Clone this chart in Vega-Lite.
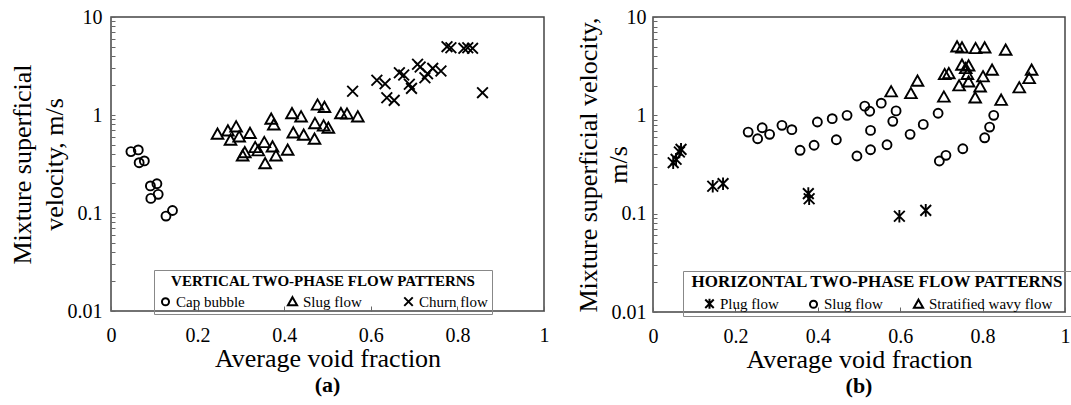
{
  "$schema": "https://vega.github.io/schema/vega-lite/v6.json",
  "padding": {"left": 8, "top": 6, "right": 0, "bottom": 0},
  "background": "white",
  "spacing": 24,
  "config": {
    "font": "Liberation Serif",
    "view": {"stroke": "#444", "strokeWidth": 1.5},
    "axis": {"domain": false, "grid": false, "labelFont": "Liberation Serif", "titleFont": "Liberation Serif", "labelColor": "black", "titleColor": "black", "tickColor": "#666", "titleFontWeight": "normal"}
  },
  "datasets": {
    "vertical": [
      {"x": 0.046, "v": 0.423, "type": "Cap bubble"},
      {"x": 0.063, "v": 0.440, "type": "Cap bubble"},
      {"x": 0.065, "v": 0.326, "type": "Cap bubble"},
      {"x": 0.077, "v": 0.340, "type": "Cap bubble"},
      {"x": 0.091, "v": 0.189, "type": "Cap bubble"},
      {"x": 0.106, "v": 0.199, "type": "Cap bubble"},
      {"x": 0.092, "v": 0.141, "type": "Cap bubble"},
      {"x": 0.109, "v": 0.155, "type": "Cap bubble"},
      {"x": 0.127, "v": 0.093, "type": "Cap bubble"},
      {"x": 0.142, "v": 0.106, "type": "Cap bubble"},
      {"x": 0.246, "v": 0.635, "type": "Slug flow"},
      {"x": 0.270, "v": 0.687, "type": "Slug flow"},
      {"x": 0.276, "v": 0.552, "type": "Slug flow"},
      {"x": 0.289, "v": 0.755, "type": "Slug flow"},
      {"x": 0.296, "v": 0.597, "type": "Slug flow"},
      {"x": 0.321, "v": 0.646, "type": "Slug flow"},
      {"x": 0.304, "v": 0.382, "type": "Slug flow"},
      {"x": 0.309, "v": 0.412, "type": "Slug flow"},
      {"x": 0.333, "v": 0.464, "type": "Slug flow"},
      {"x": 0.340, "v": 0.430, "type": "Slug flow"},
      {"x": 0.354, "v": 0.522, "type": "Slug flow"},
      {"x": 0.356, "v": 0.318, "type": "Slug flow"},
      {"x": 0.370, "v": 0.904, "type": "Slug flow"},
      {"x": 0.376, "v": 0.791, "type": "Slug flow"},
      {"x": 0.373, "v": 0.471, "type": "Slug flow"},
      {"x": 0.381, "v": 0.382, "type": "Slug flow"},
      {"x": 0.408, "v": 0.436, "type": "Slug flow"},
      {"x": 0.418, "v": 1.03, "type": "Slug flow"},
      {"x": 0.421, "v": 0.655, "type": "Slug flow"},
      {"x": 0.439, "v": 0.955, "type": "Slug flow"},
      {"x": 0.445, "v": 0.621, "type": "Slug flow"},
      {"x": 0.470, "v": 0.565, "type": "Slug flow"},
      {"x": 0.471, "v": 0.815, "type": "Slug flow"},
      {"x": 0.477, "v": 1.26, "type": "Slug flow"},
      {"x": 0.493, "v": 1.19, "type": "Slug flow"},
      {"x": 0.491, "v": 0.773, "type": "Slug flow"},
      {"x": 0.502, "v": 0.731, "type": "Slug flow"},
      {"x": 0.531, "v": 1.03, "type": "Slug flow"},
      {"x": 0.545, "v": 1.02, "type": "Slug flow"},
      {"x": 0.570, "v": 0.955, "type": "Slug flow"},
      {"x": 0.558, "v": 1.75, "type": "Churn flow"},
      {"x": 0.614, "v": 2.26, "type": "Churn flow"},
      {"x": 0.633, "v": 2.08, "type": "Churn flow"},
      {"x": 0.637, "v": 1.50, "type": "Churn flow"},
      {"x": 0.654, "v": 1.41, "type": "Churn flow"},
      {"x": 0.666, "v": 2.70, "type": "Churn flow"},
      {"x": 0.676, "v": 2.56, "type": "Churn flow"},
      {"x": 0.689, "v": 2.06, "type": "Churn flow"},
      {"x": 0.694, "v": 1.87, "type": "Churn flow"},
      {"x": 0.708, "v": 3.29, "type": "Churn flow"},
      {"x": 0.714, "v": 3.09, "type": "Churn flow"},
      {"x": 0.725, "v": 2.40, "type": "Churn flow"},
      {"x": 0.731, "v": 2.64, "type": "Churn flow"},
      {"x": 0.743, "v": 2.99, "type": "Churn flow"},
      {"x": 0.762, "v": 2.81, "type": "Churn flow"},
      {"x": 0.776, "v": 4.98, "type": "Churn flow"},
      {"x": 0.785, "v": 4.86, "type": "Churn flow"},
      {"x": 0.815, "v": 4.79, "type": "Churn flow"},
      {"x": 0.824, "v": 4.86, "type": "Churn flow"},
      {"x": 0.835, "v": 4.79, "type": "Churn flow"},
      {"x": 0.858, "v": 1.69, "type": "Churn flow"}
    ],
    "horizontal": [
      {"x": 0.049, "v": 0.330, "type": "Plug flow"},
      {"x": 0.056, "v": 0.357, "type": "Plug flow"},
      {"x": 0.064, "v": 0.424, "type": "Plug flow"},
      {"x": 0.068, "v": 0.451, "type": "Plug flow"},
      {"x": 0.145, "v": 0.190, "type": "Plug flow"},
      {"x": 0.170, "v": 0.202, "type": "Plug flow"},
      {"x": 0.377, "v": 0.160, "type": "Plug flow"},
      {"x": 0.379, "v": 0.142, "type": "Plug flow"},
      {"x": 0.598, "v": 0.094, "type": "Plug flow"},
      {"x": 0.662, "v": 0.108, "type": "Plug flow"},
      {"x": 0.231, "v": 0.676, "type": "Slug flow"},
      {"x": 0.254, "v": 0.578, "type": "Slug flow"},
      {"x": 0.265, "v": 0.748, "type": "Slug flow"},
      {"x": 0.283, "v": 0.641, "type": "Slug flow"},
      {"x": 0.313, "v": 0.791, "type": "Slug flow"},
      {"x": 0.337, "v": 0.715, "type": "Slug flow"},
      {"x": 0.357, "v": 0.441, "type": "Slug flow"},
      {"x": 0.391, "v": 0.496, "type": "Slug flow"},
      {"x": 0.399, "v": 0.855, "type": "Slug flow"},
      {"x": 0.435, "v": 0.925, "type": "Slug flow"},
      {"x": 0.445, "v": 0.565, "type": "Slug flow"},
      {"x": 0.471, "v": 1.00, "type": "Slug flow"},
      {"x": 0.495, "v": 0.386, "type": "Slug flow"},
      {"x": 0.514, "v": 1.24, "type": "Slug flow"},
      {"x": 0.526, "v": 1.10, "type": "Slug flow"},
      {"x": 0.528, "v": 0.703, "type": "Slug flow"},
      {"x": 0.528, "v": 0.447, "type": "Slug flow"},
      {"x": 0.554, "v": 1.33, "type": "Slug flow"},
      {"x": 0.568, "v": 0.502, "type": "Slug flow"},
      {"x": 0.582, "v": 0.869, "type": "Slug flow"},
      {"x": 0.590, "v": 1.11, "type": "Slug flow"},
      {"x": 0.624, "v": 0.641, "type": "Slug flow"},
      {"x": 0.656, "v": 0.809, "type": "Slug flow"},
      {"x": 0.692, "v": 1.05, "type": "Slug flow"},
      {"x": 0.695, "v": 0.343, "type": "Slug flow"},
      {"x": 0.711, "v": 0.392, "type": "Slug flow"},
      {"x": 0.752, "v": 0.457, "type": "Slug flow"},
      {"x": 0.805, "v": 0.591, "type": "Slug flow"},
      {"x": 0.817, "v": 0.760, "type": "Slug flow"},
      {"x": 0.827, "v": 1.00, "type": "Slug flow"},
      {"x": 0.578, "v": 1.73, "type": "Stratified wavy flow"},
      {"x": 0.626, "v": 1.66, "type": "Stratified wavy flow"},
      {"x": 0.642, "v": 2.22, "type": "Stratified wavy flow"},
      {"x": 0.706, "v": 1.53, "type": "Stratified wavy flow"},
      {"x": 0.708, "v": 2.59, "type": "Stratified wavy flow"},
      {"x": 0.718, "v": 2.65, "type": "Stratified wavy flow"},
      {"x": 0.738, "v": 4.95, "type": "Stratified wavy flow"},
      {"x": 0.750, "v": 4.84, "type": "Stratified wavy flow"},
      {"x": 0.783, "v": 4.76, "type": "Stratified wavy flow"},
      {"x": 0.805, "v": 4.84, "type": "Stratified wavy flow"},
      {"x": 0.856, "v": 4.58, "type": "Stratified wavy flow"},
      {"x": 0.750, "v": 3.23, "type": "Stratified wavy flow"},
      {"x": 0.759, "v": 2.98, "type": "Stratified wavy flow"},
      {"x": 0.766, "v": 3.17, "type": "Stratified wavy flow"},
      {"x": 0.763, "v": 2.60, "type": "Stratified wavy flow"},
      {"x": 0.743, "v": 1.99, "type": "Stratified wavy flow"},
      {"x": 0.766, "v": 2.18, "type": "Stratified wavy flow"},
      {"x": 0.782, "v": 1.50, "type": "Stratified wavy flow"},
      {"x": 0.794, "v": 1.94, "type": "Stratified wavy flow"},
      {"x": 0.801, "v": 2.46, "type": "Stratified wavy flow"},
      {"x": 0.823, "v": 2.87, "type": "Stratified wavy flow"},
      {"x": 0.845, "v": 1.42, "type": "Stratified wavy flow"},
      {"x": 0.889, "v": 1.90, "type": "Stratified wavy flow"},
      {"x": 0.913, "v": 2.36, "type": "Stratified wavy flow"},
      {"x": 0.919, "v": 2.87, "type": "Stratified wavy flow"}
    ]
  },
  "resolve": {"scale": {"shape": "independent", "x": "independent", "y": "independent"}, "legend": {"shape": "independent"}},
  "hconcat": [
    {
      "width": 433,
      "height": 294,
      "data": {"name": "vertical"},
      "title": {"text": "(a)", "orient": "bottom", "font": "Liberation Serif", "fontSize": 22, "fontWeight": "bold", "offset": 4},
      "mark": {"type": "point", "filled": false, "stroke": "black", "strokeWidth": 1.9, "opacity": 1, "size": 80},
      "encoding": {
        "x": {"field": "x", "type": "quantitative", "scale": {"domain": [0, 1], "nice": false}, "axis": {"title": "Average void fraction", "values": [0, 0.2, 0.4, 0.6, 0.8, 1], "format": "~g", "labelFontSize": 20, "titleFontSize": 26, "tickSize": -5, "labelPadding": 19, "titlePadding": 0, "labelFlush": false}},
        "y": {"field": "v", "type": "quantitative", "scale": {"type": "log", "domain": [0.01, 10], "nice": false}, "axis": {"title": ["Mixture superficial", "velocity, m/s"], "titleLineHeight": 32, "values": [0.01, 0.02, 0.03, 0.04, 0.05, 0.06, 0.07, 0.08, 0.09, 0.1, 0.2, 0.3, 0.4, 0.5, 0.6, 0.7, 0.8, 0.9, 1, 2, 3, 4, 5, 6, 7, 8, 9, 10], "format": "~g", "labelExpr": "(datum.value == 0.01 || datum.value == 0.1 || datum.value == 1 || datum.value == 10) ? datum.label : ''", "labelFontSize": 20, "titleFontSize": 26, "tickSize": -4, "labelPadding": 13, "titlePadding": 0, "labelFlush": false}},
        "shape": {"field": "type", "type": "nominal", "scale": {"domain": ["Cap bubble", "Slug flow", "Churn flow"], "range": ["circle", "M0,-1.3L1.3,1.0L-1.3,1.0Z", "M-1.2,-1.2L1.2,1.2M-1.2,1.2L1.2,-1.2"]}, "legend": {"orient": "none", "legendX": 43, "legendY": 253, "direction": "horizontal", "title": "VERTICAL  TWO-PHASE  FLOW PATTERNS", "titleFont": "Liberation Serif", "titleFontWeight": "bold", "titleFontSize": 15, "titleAnchor": "middle", "titleColor": "black", "titleLimit": 600, "labelFont": "Liberation Serif", "labelFontSize": 15, "labelColor": "black", "labelLimit": 300, "strokeColor": "#888", "padding": 4, "columnPadding": 38, "symbolStrokeColor": "black", "symbolStrokeWidth": 2, "symbolSize": 50, "labelOffset": 3}}
      }
    },
    {
      "width": 412,
      "height": 295,
      "data": {"name": "horizontal"},
      "title": {"text": "(b)", "orient": "bottom", "font": "Liberation Serif", "fontSize": 22, "fontWeight": "bold", "offset": 4},
      "mark": {"type": "point", "filled": false, "stroke": "black", "strokeWidth": 1.9, "opacity": 1, "size": 80},
      "encoding": {
        "x": {"field": "x", "type": "quantitative", "scale": {"domain": [0, 1], "nice": false}, "axis": {"title": "Average void fraction", "values": [0, 0.2, 0.4, 0.6, 0.8, 1], "format": "~g", "labelFontSize": 20, "titleFontSize": 26, "tickSize": -5, "labelPadding": 19, "titlePadding": 0, "labelFlush": false}},
        "y": {"field": "v", "type": "quantitative", "scale": {"type": "log", "domain": [0.01, 10], "nice": false}, "axis": {"title": ["Mixture superficial  velocity,", "m/s"], "titleLineHeight": 30, "values": [0.01, 0.02, 0.03, 0.04, 0.05, 0.06, 0.07, 0.08, 0.09, 0.1, 0.2, 0.3, 0.4, 0.5, 0.6, 0.7, 0.8, 0.9, 1, 2, 3, 4, 5, 6, 7, 8, 9, 10], "format": "~g", "labelExpr": "(datum.value == 0.01 || datum.value == 0.1 || datum.value == 1 || datum.value == 10) ? datum.label : ''", "labelFontSize": 20, "titleFontSize": 26, "tickSize": -4, "labelPadding": 11, "titlePadding": -20, "labelFlush": false}},
        "shape": {"field": "type", "type": "nominal", "scale": {"domain": ["Plug flow", "Slug flow", "Stratified wavy flow"], "range": ["M-1.2,-1.2L1.2,1.2M-1.2,1.2L1.2,-1.2M0,-1.4L0,1.4", "circle", "M0,-1.3L1.3,1.0L-1.3,1.0Z"]}, "legend": {"orient": "none", "legendX": 30, "legendY": 254, "direction": "horizontal", "title": "HORIZONTAL  TWO-PHASE  FLOW PATTERNS", "titleFont": "Liberation Serif", "titleFontWeight": "bold", "titleFontSize": 17, "titleAnchor": "middle", "titleColor": "black", "titleLimit": 600, "labelFont": "Liberation Serif", "labelFontSize": 15, "labelColor": "black", "labelLimit": 300, "strokeColor": "#888", "padding": 3, "columnPadding": 26, "symbolStrokeColor": "black", "symbolStrokeWidth": 2, "symbolSize": 50, "labelOffset": 3}}
      }
    }
  ]
}
